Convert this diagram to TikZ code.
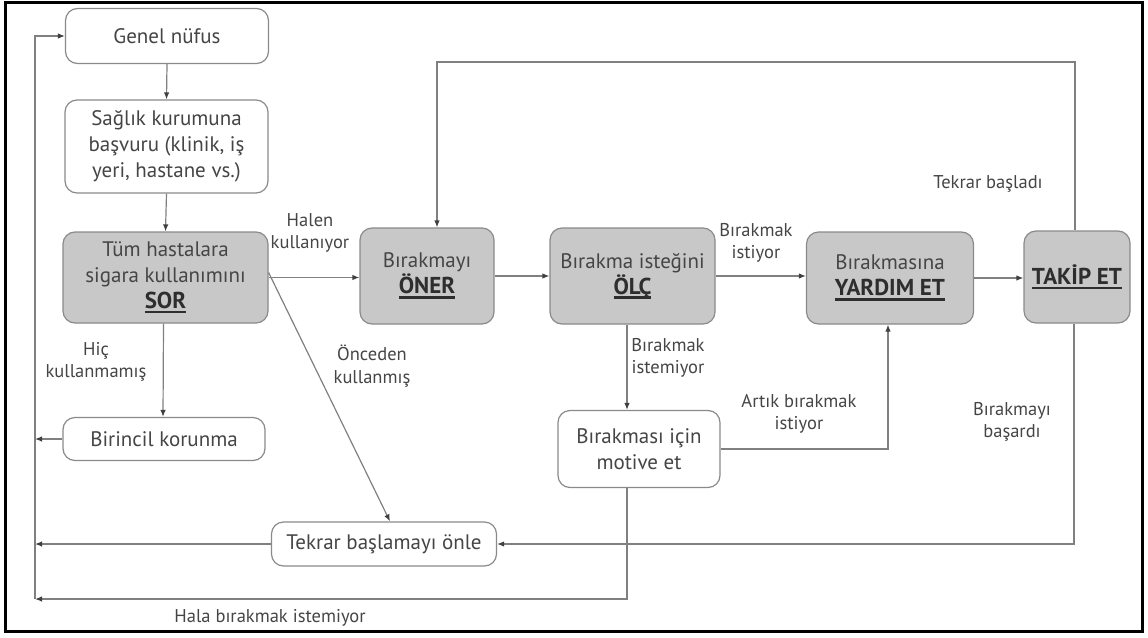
\documentclass[tikz,border=0pt]{standalone}
\usepackage{fontspec}
\setmainfont{PT Sans}
\usetikzlibrary{arrows.meta,calc}
\definecolor{txt}{HTML}{454545}
\definecolor{ln}{HTML}{808080}
\definecolor{boxfill}{HTML}{C8C8C8}
\definecolor{boxdraw}{HTML}{8A8A8A}
\newcommand{\ulb}[1]{\setbox0\hbox{\color{black!82}\fontsize{23}{26}\selectfont\bfseries #1}\leavevmode\rlap{\color{black!82}\rule[-5pt]{\wd0}{2.8pt}}\box0}
\tikzset{
  wbox/.style={draw=boxdraw, line width=1.2pt, rounded corners=12pt, fill=white, align=center,
    text=txt, font=\fontsize{21}{26}\selectfont, inner sep=0pt},
  gbox/.style={wbox, fill=boxfill},
  lbl/.style={text=txt, align=center, font=\fontsize{18.5}{22.5}\selectfont, inner sep=0pt},
  conn/.style={draw=ln, line width=1.2pt},
  arr/.style={conn, -{Latex[length=7pt,width=5.5pt,color=black!75]}}
}
\begin{document}
\begin{tikzpicture}[x=1pt,y=-1pt]
\useasboundingbox (0,0) rectangle (1148,637);
\draw[line width=3pt, black] (5,2) rectangle (1142,631);

% nodes
\node[wbox, minimum width=203pt, minimum height=55pt] (genel) at (167,36) {Genel nüfus};
\node[wbox, minimum width=203pt, minimum height=93pt] (saglik) at (166.5,146.5) {Sağlık kurumuna\\başvuru (klinik, iş\\yeri, hastane vs.)};
\node[gbox, minimum width=205pt, minimum height=91pt] (sor) at (165.5,277.5) {Tüm hastalara\\sigara kullanımını\\\ulb{SOR}};
\node[wbox, minimum width=202pt, minimum height=43pt] (birincil) at (164,439) {Birincil korunma};
\node[wbox, minimum width=225pt, minimum height=44pt] (tekrar) at (384,544) {Tekrar başlamayı önle};
\node[gbox, minimum width=134pt, minimum height=96pt] (oner) at (427,276) {Bırakmayı\\\ulb{ÖNER}};
\node[gbox, minimum width=165pt, minimum height=96pt] (olc) at (632.5,276) {Bırakma isteğini\\\ulb{ÖLÇ}};
\node[wbox, minimum width=162pt, minimum height=77pt] (motive) at (639,449) {Bırakması için\\motive et};
\node[gbox, minimum width=167pt, minimum height=92pt] (yardim) at (890,278) {Bırakmasına\\\ulb{YARDIM ET}};
\node[gbox, minimum width=106pt, minimum height=92pt] (takip) at (1077,277) {\ulb{TAKİP ET}};

% helper coordinates
\coordinate (ttop) at (35,36);
\coordinate (tbot) at (35,599);
\coordinate (mx) at (627,0);
\coordinate (loopy) at (0,62);

% trunk
\draw[arr] (tbot) -- (ttop) -- (genel.west);
\draw[arr] (birincil.west) -- (birincil.west -| ttop);
\draw[arr] (tekrar.west) -- (tekrar.west -| ttop);
\draw[arr] (motive.south -| mx) |- (tbot);

% main flow
\draw[arr] (genel.south) -- (saglik.north);
\draw[arr] (saglik.south) -- (sor.north);
\draw[arr] (sor.east) -- (sor.east -| oner.west);
\draw[arr] ([yshift=5pt]sor.east) -- ([xshift=6pt]tekrar.north);
\draw[arr] ([xshift=-2pt]sor.south) -- ([xshift=-1pt]birincil.north);
\draw[arr] (oner.east) -- (olc.west);
\draw[arr] (olc.east) -- (olc.east -| yardim.west);
\draw[arr] (yardim.east) -- (yardim.east -| takip.west);
\draw[arr] (olc.south -| mx) -- (motive.north -| mx);
\draw[arr] (motive.east) -| ([xshift=-2pt]yardim.south);
\coordinate (tk) at ([xshift=-2pt]takip.north);
\coordinate (on) at ([xshift=10pt]oner.north);
\draw[arr] (tk) -- (tk |- loopy) -- (on |- loopy) -- (on);
\draw[arr] ([xshift=-3pt]takip.south) |- (tekrar.east);

% labels
\node[lbl] (l1) at (310,233) {Halen\\kullanıyor};
\node[lbl] (l2) at (96,362) {Hiç\\kullanmamış};
\node[lbl] (l3) at (372,366) {Önceden\\kullanmış};
\node[lbl] (l4) at (756,243) {Bırakmak\\istiyor};
\node[lbl] (l5) at (988,184) {Tekrar başladı};
\node[lbl] (l6) at (668,358) {Bırakmak\\istemiyor};
\node[lbl] (l7) at (799,414) {Artık bırakmak\\istiyor};
\node[lbl] (l8) at (1012,422) {Bırakmayı\\başardı};
\node[lbl] (l9) at (270,618) {Hala bırakmak istemiyor};
\end{tikzpicture}
\end{document}
